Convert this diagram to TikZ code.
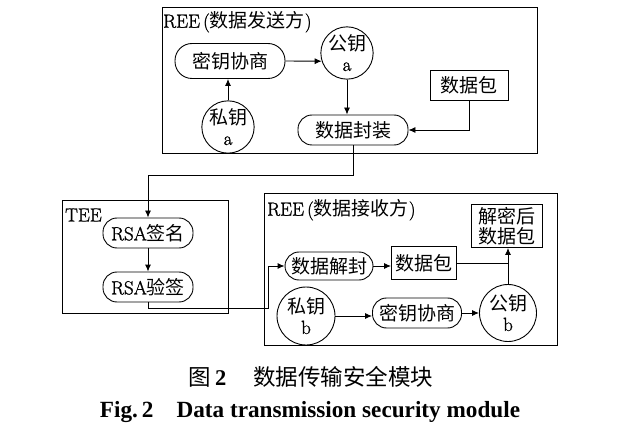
\documentclass[tikz,border=0pt]{standalone}
\usepackage{fontspec}
\setmainfont{Latin Modern Roman}[RawFeature={embolden=1.2}]
\newfontfamily\cjk{Noto Sans CJK SC}
\newfontfamily\tnr{Liberation Serif}
\usetikzlibrary{arrows.meta,calc}
\begin{document}
\begin{tikzpicture}[x=1pt,y=-1pt,
  every node/.style={font=\fontsize{19}{20}\selectfont, inner sep=0pt},
  ln/.style={line width=0.9pt},
  arr/.style={ln,-{Latex[length=7pt,width=6pt]}},
  frame/.style={draw,line width=0.8pt},
  rbox/.style={draw,ln,rounded corners=14pt,minimum height=30pt},
  sbox/.style={draw,ln,minimum height=30pt},
  circ/.style={draw,ln,circle,align=center}]
\useasboundingbox (0,0) rectangle (619,441);

% frames
\draw[frame] (162,7) rectangle (537,153);
\draw[frame] (62,200) rectangle (228,313);
\draw[frame] (264,193) rectangle (557,345);

% titles
\node[anchor=west] (t1) at (163,22) {REE\,({\cjk 数据发送方})};
\node[anchor=west] (t2) at (65,215) {TEE};
\node[anchor=west] (t3) at (267,210) {REE\,({\cjk 数据接收方})};

% top REE
\node[rbox,minimum width=110pt,minimum height=35pt,rounded corners=17pt] (mx1) at (230,61) {\cjk 密钥协商};
\node[circ,minimum size=50pt] (gya) at (347,53) {{\cjk 公钥}\\a};
\node[sbox,minimum width=78pt] (pkt1) at (469,85) {\cjk 数据包};
\node[circ,minimum size=50pt] (sya) at (228,127) {{\cjk 私钥}\\a};
\node[rbox,minimum width=110pt] (fz) at (353,130) {\cjk 数据封装};

% TEE
\node[rbox,minimum width=90pt] (sig) at (148,233) {RSA{\cjk 签名}};
\node[rbox,minimum width=90pt] (ver) at (148,287) {RSA{\cjk 验签}};

% bottom REE
\node[sbox,minimum width=71pt,minimum height=43pt,align=center] (dec) at (507,226) {\cjk 解密后\\\cjk 数据包};
\node[rbox,minimum width=88pt,minimum height=28pt] (jf) at (329,266) {\cjk 数据解封};
\node[sbox,minimum width=65pt,minimum height=33pt] (pkt2) at (424,263) {\cjk 数据包};
\node[circ,minimum size=58pt] (syb) at (306,316) {{\cjk 私钥}\\b};
\node[rbox,minimum width=89pt] (mx2) at (417,313) {\cjk 密钥协商};
\node[circ,minimum size=57pt] (gyb) at (508,313) {{\cjk 公钥}\\b};

% connectors top
\draw[arr] (mx1.east) -- (gya.198);
\draw[arr] (sya.north) -- (sya.north |- mx1.south);
\draw[arr] (gya.south) -- (gya.south |- fz.north);
\draw[arr] (pkt1.south) |- (fz.east);
\coordinate (c1) at (353,175);
\draw[arr] (fz.south) -- (c1) -| (sig.north);

% TEE
\draw[arr] (sig.south) -- (ver.north);
\coordinate (c2) at (268,308);
\draw[arr] (ver.south) |- (c2) |- (jf.west);

% bottom REE
\draw[arr] (jf.east) -- (jf.east -| pkt2.west);
\coordinate (c3) at (gyb.north |- pkt2.east);
\draw[ln] (pkt2.east) -- (c3);
\draw[arr] (gyb.north) -- (gyb.north |- dec.south);
\draw[arr] (syb.east) -- (syb.east -| mx2.west);
\draw[arr] (mx2.east) -- (gyb.west);

% captions
\node (cap1) at (311,377) {\fontsize{22.5}{24}\selectfont\cjk 图\,{\tnr\bfseries 2}\hspace{1.2em}数据传输安全模块};
\node[anchor=base] (cap2) at (310,417) {\fontsize{23.2}{24}\selectfont\tnr\bfseries Fig.\,2\quad Data transmission security module};
\end{tikzpicture}
\end{document}
